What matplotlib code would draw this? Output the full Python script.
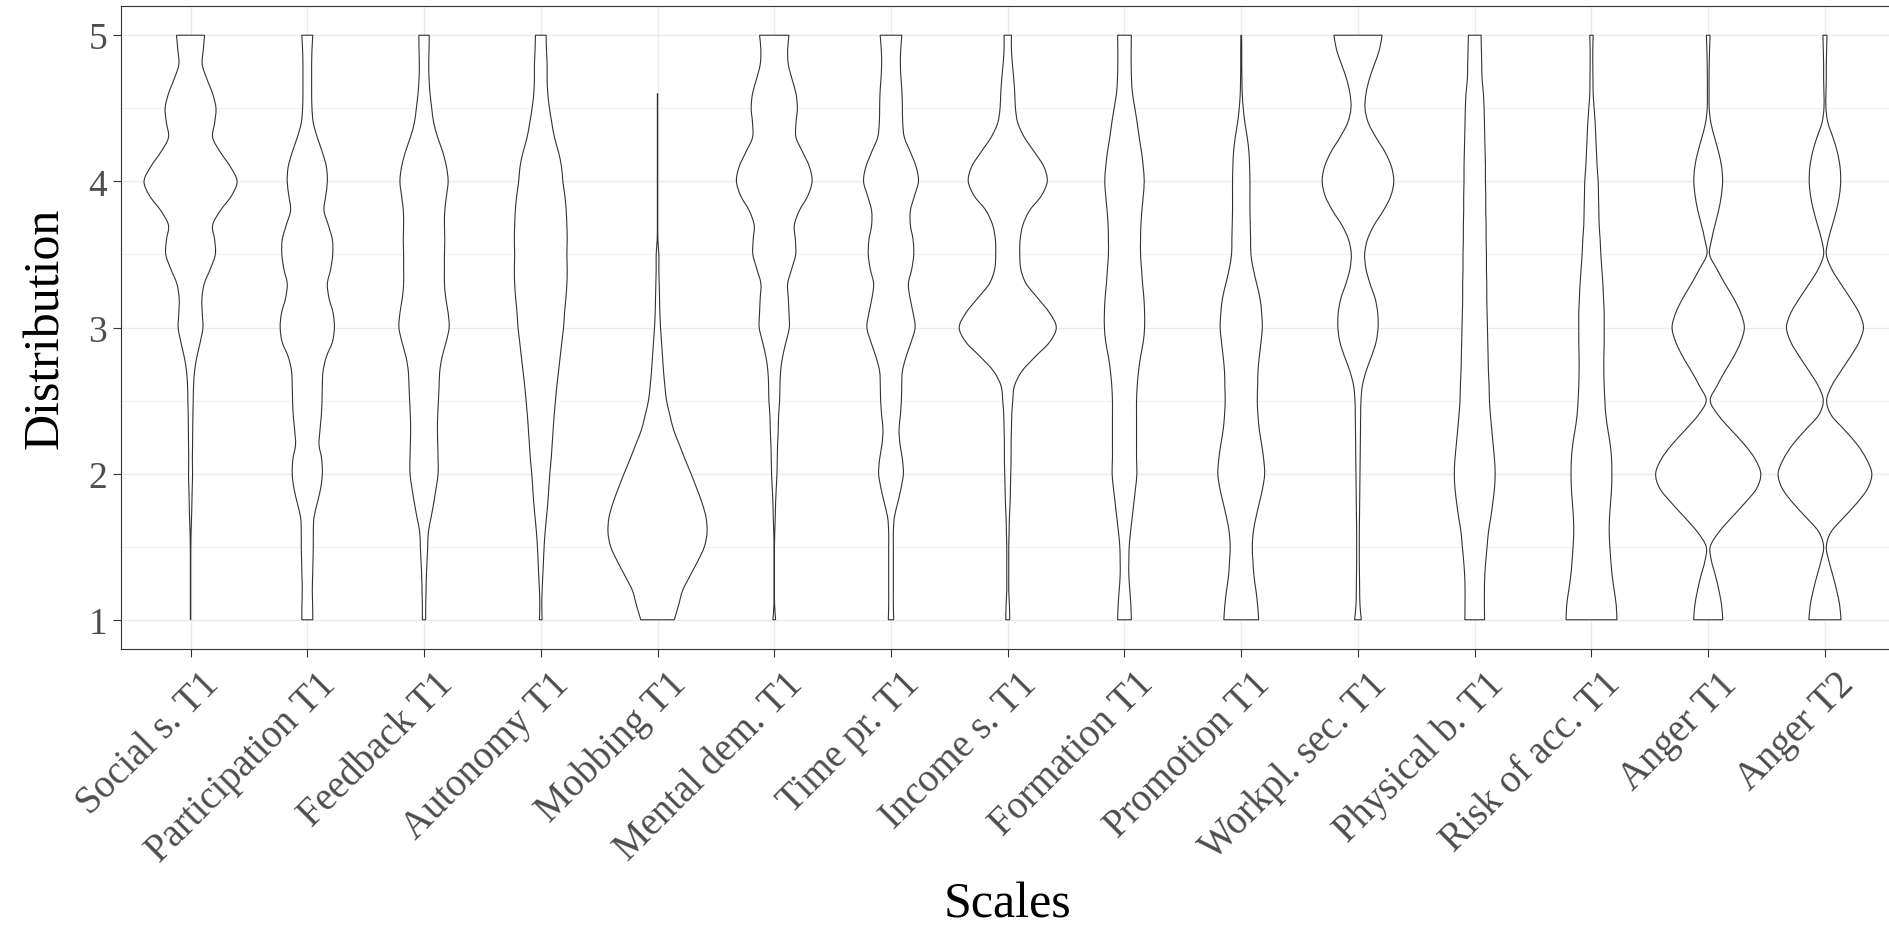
import numpy as np
import matplotlib
matplotlib.use("Agg")
import matplotlib.pyplot as plt
from matplotlib.path import Path
from matplotlib.patches import PathPatch
from matplotlib.transforms import ScaledTranslation

plt.rcParams['font.family'] = ['Liberation Serif', 'DejaVu Serif']

# ---------------- data ----------------
scales = ["Social s. T1", "Participation T1", "Feedback T1", "Autonomy T1",
          "Mobbing T1", "Mental dem. T1", "Time pr. T1", "Income s. T1",
          "Formation T1", "Promotion T1", "Workpl. sec. T1", "Physical b. T1",
          "Risk of acc. T1", "Anger T1", "Anger T2"]

# response scale grid (1.0 .. 5.0 in steps of 0.1); densities
y_levels = [round(1.0 + 0.1 * i, 1) for i in range(41)]

social = [0.5, 0.5, 0.5, 0.5, 0.5, 0.8, 1.5, 3, 4, 5, 6, 5.5, 6, 6.5, 7, 8, 9, 12, 19, 29,
          37, 35, 34, 41, 59, 74, 72, 66, 89, 122, 139, 119, 89, 66, 72, 76, 66, 49, 35, 38, 42]
participation = [16.5, 16, 15, 16, 17, 18, 18, 20, 30, 40, 45, 43, 35, 38, 42, 44, 45, 47, 57, 75,
                 81, 77, 65, 60, 70, 76, 75, 63, 50, 55, 60, 57, 45, 30, 18, 14, 13, 13, 13, 14, 16.5]
feedback = [5, 5, 6, 7, 9, 11, 13, 21, 29, 36, 42, 42, 41, 40, 41, 43, 45, 47, 54, 66,
            75, 72, 65, 61, 61, 61, 62, 61, 62, 67, 72, 67, 56, 41, 29, 23, 18, 15, 14, 15, 15.5]
autonomy = [4, 3, 4, 6, 8, 10, 13, 17, 21, 24, 27, 31, 34, 37, 40, 44, 48, 53, 58, 63,
            68, 71, 75, 78, 79, 78, 79, 78, 76, 72, 66, 62, 53, 41, 33, 26, 21, 19, 19, 17, 16]
mobbing = [50, 63, 75, 97, 120, 140, 148, 145, 133, 117, 100, 82, 65, 48, 37, 27, 22, 18, 15, 12,
           9, 7, 6, 5, 4, 4, 1, 0.5, 0.5, 0.5, 0.5, 0.5, 0.5, 0.5, 0.5, 0.5, 0.5]
mental = [4, 1, 0.5, 0.5, 0.5, 0.5, 1.5, 3, 4, 6, 8, 9, 10, 12, 13, 16, 17, 19, 25, 35,
          45, 44, 42, 40, 52, 64, 63, 60, 75, 100, 113, 105, 85, 65, 65, 69, 65, 53, 42, 40, 44]
time_pr = [8, 7, 7, 7, 7, 7, 7, 10, 20, 30, 37, 34, 27, 24, 28, 31, 32, 34, 45, 60,
           72, 66, 57, 52, 62, 68, 66, 58, 58, 70, 82, 75, 58, 40, 35, 34, 33, 30, 28, 29, 32.5]
income = [6, 5, 3, 3, 3, 3, 4, 5, 7, 8, 9, 10, 10, 11, 12, 15, 20, 42, 82, 125,
          145, 125, 90, 55, 39, 36, 37, 45, 65, 100, 118, 108, 80, 50, 30, 23, 21, 18, 14, 11, 11]
formation = [20.5, 19, 16, 13, 13, 14, 18, 23, 28, 33, 37, 36, 36, 36, 36, 36, 38, 42, 48, 56,
             60, 60, 58, 54, 51, 48, 48, 49, 52, 56, 59, 56, 51, 44, 38, 31, 24, 21, 20, 20, 20.5]
promotion = [52, 49, 44, 38, 35, 33, 36, 44, 54, 64, 70, 67, 61, 54, 50, 48, 49, 50, 54, 59,
             63, 61, 56, 46, 36, 29, 28, 27, 26, 26, 26, 25, 23, 18, 11, 6, 3, 2, 1.5, 1.5, 1]
workpl = [10, 6, 5, 4.5, 4, 4, 4, 4.5, 5, 5.5, 6, 6.5, 7, 7.5, 8, 9, 13, 24, 40, 54,
          60, 59, 51, 36, 24, 20, 28, 48, 76, 98, 107, 100, 81, 54, 31, 21, 24, 34, 49, 64, 72]
physical = [29.5, 29, 29, 30, 33, 37, 41, 48, 54, 59, 61, 59, 55, 51, 47, 44, 43, 41, 40, 39,
            38, 37, 36, 36, 35, 35, 34, 34, 33, 33, 32, 32, 31, 30, 29, 28, 26, 22, 21, 20, 19]
risk = [76, 74, 68, 62, 58, 55, 53, 54, 57, 60, 61, 60, 56, 49, 43, 40, 38, 37, 37, 38,
        38, 38, 36, 34, 31, 28, 26, 23, 22, 21, 20, 17, 15, 13, 11, 8, 5, 4.5, 4, 4, 5]
anger1 = [43.5, 40, 32, 22, 10, 6, 32, 70, 110, 145, 157, 140, 108, 68, 30, 6, 26, 50, 76, 97,
          108, 97, 76, 50, 26, 4, 10, 20, 31, 39, 43, 40, 31, 19, 8, 3, 2.5, 2.5, 3, 4, 5.5]
anger2 = [48, 44, 35, 24, 12, 4, 18, 56, 96, 128, 140, 124, 96, 58, 19, 5, 20, 47, 76, 102,
          115, 102, 76, 47, 20, 4, 10, 22, 34, 43, 47, 45, 37, 24, 9, 3, 3, 4, 4, 5, 6]

densities = [social, participation, feedback, autonomy, mobbing, mental, time_pr,
             income, formation, promotion, workpl, physical, risk, anger1, anger2]
y_ticks = [1, 2, 3, 4, 5]

# ---------------- helpers ----------------
def smooth_segments(pts):
    """Cubic Bezier (Catmull-Rom) vertices/codes passing through pts (after first)."""
    verts, codes = [], []
    n = len(pts)
    for i in range(n - 1):
        p0 = pts[i - 1] if i > 0 else pts[i]
        p1, p2 = pts[i], pts[i + 1]
        p3 = pts[i + 2] if i + 2 < n else pts[i + 1]
        c1 = p1 + (p2 - p0) / 6.0
        c2 = p2 - (p3 - p1) / 6.0
        verts += [c1, c2, p2]
        codes += [Path.CURVE4] * 3
    return verts, codes


# ---------------- figure ----------------
W, H = 1890, 928
fig = plt.figure(figsize=(W / 100, H / 100), dpi=100)
ax = fig.add_axes([120.5 / W, (H - 650) / H, (1895 - 120.5) / W, 643 / H])

positions = np.arange(1, len(scales) + 1)
global_max = max(max(d) for d in densities)
max_halfwidth = 0.45  # ggplot default width 0.9, scale = "area"

for pos, d in zip(positions, densities):
    yv = np.array(y_levels[:len(d)])
    hw = max_halfwidth * np.array(d, dtype=float) / global_max
    right = np.column_stack([pos + hw, yv])
    left = np.column_stack([pos - hw, yv])[::-1]
    verts = [left[-1], right[0]]
    codes = [Path.MOVETO, Path.LINETO]
    v, c = smooth_segments(right)
    verts += v; codes += c
    verts.append(left[0]); codes.append(Path.LINETO)
    v, c = smooth_segments(left)
    verts += v; codes += c
    verts.append(left[-1]); codes.append(Path.CLOSEPOLY)
    patch = PathPatch(Path(np.array(verts), codes), facecolor='white',
                      edgecolor='#333333', linewidth=0.8, zorder=3)
    ax.add_patch(patch)

ax.set_xlim(0.4, 15.6)
ax.set_ylim(0.8, 5.2)

# grid
ax.set_axisbelow(True)
ax.set_yticks(y_ticks)
ax.set_yticks([1.5, 2.5, 3.5, 4.5], minor=True)
ax.grid(which='major', color='#EBEBEB', linewidth=1.0)
ax.grid(which='minor', axis='y', color='#F2F2F2', linewidth=0.8)
ax.tick_params(which='minor', left=False)

for s in ax.spines.values():
    s.set_color('#333333')
    s.set_linewidth(0.8)

ax.tick_params(axis='both', which='major', length=5.5, width=0.8, color='#333333',
               labelcolor='#4D4D4D')
ax.tick_params(axis='y', pad=4, labelsize=27)
ax.tick_params(axis='x', pad=6, labelsize=28)

ax.set_xticks(positions)
ax.set_xticklabels(scales, rotation=45, ha='right', va='top', rotation_mode='anchor')
offset = ScaledTranslation(0.10, 0, fig.dpi_scale_trans)
for lab in ax.get_xticklabels():
    lab.set_transform(lab.get_transform() + offset)

ax.set_xlabel('Scales', fontsize=36, color='black', va='baseline')
ax.xaxis.set_label_coords(0.5, -(918 - 650) / 643)
ax.set_ylabel('Distribution', fontsize=36, color='black', va='center')
ax.yaxis.set_label_coords(-0.042, 0.5)

fig.savefig('out.png', dpi=100, facecolor='white')
